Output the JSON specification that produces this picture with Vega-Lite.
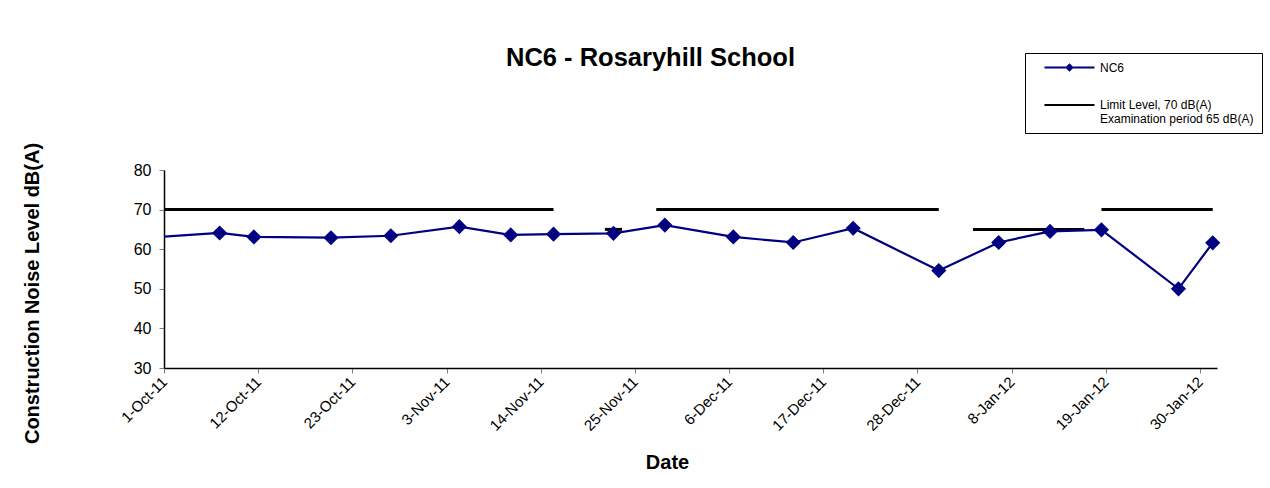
{
  "$schema": "https://vega.github.io/schema/vega-lite/v6.json",
  "width": 1053,
  "height": 198,
  "autosize": {"type": "none"},
  "padding": {"left": 164, "top": 170, "right": 53, "bottom": 120},
  "background": "white",
  "config": {
    "font": "Liberation Sans",
    "view": {"stroke": null},
    "legend": {
      "orient": "none",
      "legendX": 861,
      "legendY": -117,
      "strokeColor": "black",
      "strokeWidth": 1,
      "fillColor": "white",
      "padding": 8,
      "symbolSize": 100,
      "symbolStrokeWidth": 2.2,
      "symbolOpacity": 1,
      "labelFontSize": 12,
      "labelColor": "black",
      "labelOffset": 54,
      "labelLineHeight": 15,
      "rowPadding": 23.5
    }
  },
  "title": {
    "text": "NC6 - Rosaryhill School",
    "fontSize": 25.5,
    "fontWeight": "bold",
    "color": "black",
    "anchor": "middle",
    "frame": "group",
    "dx": -40,
    "offset": -39,
    "baseline": "alphabetic"
  },
  "datasets": {
    "nc6": [
      {"date": "2011-09-30T12:00:00", "level": 63.1, "series": "NC6"},
      {"date": "2011-10-07T12:00:00", "level": 64.1, "series": "NC6"},
      {"date": "2011-10-11T12:00:00", "level": 63.1, "series": "NC6"},
      {"date": "2011-10-20T12:00:00", "level": 62.9, "series": "NC6"},
      {"date": "2011-10-27T12:00:00", "level": 63.4, "series": "NC6"},
      {"date": "2011-11-04T12:00:00", "level": 65.7, "series": "NC6"},
      {"date": "2011-11-10T12:00:00", "level": 63.6, "series": "NC6"},
      {"date": "2011-11-15T12:00:00", "level": 63.8, "series": "NC6"},
      {"date": "2011-11-22T12:00:00", "level": 64.0, "series": "NC6"},
      {"date": "2011-11-28T12:00:00", "level": 66.1, "series": "NC6"},
      {"date": "2011-12-06T12:00:00", "level": 63.1, "series": "NC6"},
      {"date": "2011-12-13T12:00:00", "level": 61.7, "series": "NC6"},
      {"date": "2011-12-20T12:00:00", "level": 65.3, "series": "NC6"},
      {"date": "2011-12-30T12:00:00", "level": 54.6, "series": "NC6"},
      {"date": "2012-01-06T12:00:00", "level": 61.7, "series": "NC6"},
      {"date": "2012-01-12T12:00:00", "level": 64.5, "series": "NC6"},
      {"date": "2012-01-18T12:00:00", "level": 64.9, "series": "NC6"},
      {"date": "2012-01-27T12:00:00", "level": 50.0, "series": "NC6"},
      {"date": "2012-01-31T12:00:00", "level": 61.6, "series": "NC6"}
    ],
    "limit": [
      {"date": "2011-09-30T12:00:00", "end": "2011-11-15T12:00:00", "level": 70},
      {"date": "2011-11-21T12:00:00", "end": "2011-11-23T12:00:00", "level": 65},
      {"date": "2011-11-27T12:00:00", "end": "2011-12-30T12:00:00", "level": 70},
      {"date": "2012-01-03T12:00:00", "end": "2012-01-16T12:00:00", "level": 65},
      {"date": "2012-01-18T12:00:00", "end": "2012-01-31T12:00:00", "level": 70}
    ],
    "legend": [
      {"series": "NC6"},
      {"series": "Limit Level, 70 dB(A)\nExamination period 65 dB(A)"}
    ]
  },
  "encoding": {
    "x": {
      "field": "date",
      "type": "temporal",
      "scale": {
        "domain": [
          {"year": 2011, "month": 10, "date": 1},
          {"year": 2012, "month": 2, "date": 1}
        ],
        "nice": false
      },
      "axis": {
        "values": [
          {"year": 2011, "month": 10, "date": 1},
          {"year": 2011, "month": 10, "date": 12},
          {"year": 2011, "month": 10, "date": 23},
          {"year": 2011, "month": 11, "date": 3},
          {"year": 2011, "month": 11, "date": 14},
          {"year": 2011, "month": 11, "date": 25},
          {"year": 2011, "month": 12, "date": 6},
          {"year": 2011, "month": 12, "date": 17},
          {"year": 2011, "month": 12, "date": 28},
          {"year": 2012, "month": 1, "date": 8},
          {"year": 2012, "month": 1, "date": 19},
          {"year": 2012, "month": 1, "date": 30}
        ],
        "format": "%-d-%b-%y",
        "labelAngle": -45,
        "labelAlign": "right",
        "labelBaseline": "middle",
        "labelFontSize": 15,
        "labelColor": "black",
        "labelPadding": 6,
        "labelOverlap": false,
        "tickSize": 5,
        "tickColor": "#808080",
        "domainColor": "black",
        "domainWidth": 1.5,
        "grid": false,
        "title": "Date",
        "titleFontSize": 20,
        "titleFontWeight": "bold",
        "titleColor": "black",
        "titleX": 503,
        "titleY": 94,
        "titleAlign": "center",
        "titleBaseline": "middle"
      }
    },
    "y": {
      "field": "level",
      "type": "quantitative",
      "scale": {"domain": [30, 80], "nice": false, "zero": false},
      "axis": {
        "values": [30, 40, 50, 60, 70, 80],
        "grid": false,
        "labelFontSize": 16,
        "labelColor": "black",
        "labelPadding": 8,
        "tickSize": 5,
        "tickColor": "#808080",
        "domainColor": "black",
        "domainWidth": 1.5,
        "title": "Construction Noise Level  dB(A)",
        "titleFontSize": 20,
        "titleFontWeight": "bold",
        "titleColor": "black",
        "titleAngle": -90,
        "titleX": -132,
        "titleY": 123,
        "titleAlign": "center",
        "titleBaseline": "middle"
      }
    }
  },
  "layer": [
    {
      "data": {"name": "limit"},
      "mark": {"type": "rule", "color": "black", "strokeWidth": 3, "clip": true},
      "encoding": {"x2": {"field": "end"}}
    },
    {
      "data": {"name": "nc6"},
      "mark": {"type": "line", "color": "#000080", "strokeWidth": 2.2, "clip": true},
      "encoding": {}
    },
    {
      "data": {"name": "nc6"},
      "transform": [{"filter": {"field": "date", "gte": {"year": 2011, "month": 10, "date": 1}}}],
      "mark": {"type": "point", "shape": "diamond", "filled": true, "color": "#000080", "size": 230, "opacity": 1},
      "encoding": {}
    },
    {
      "data": {"name": "legend"},
      "mark": {"type": "point", "filled": true, "opacity": 0},
      "encoding": {
        "x": null,
        "y": null,
        "shape": {
          "field": "series",
          "type": "nominal",
          "scale": {
            "domain": ["NC6", "Limit Level, 70 dB(A)\nExamination period 65 dB(A)"],
            "range": ["M1,0L11,0M6,-0.56L6.56,0L6,0.56L5.44,0Z", "M1,0L11,0"]
          },
          "legend": {"title": null, "labelExpr": "split(datum.label, '\\n')"}
        },
        "fill": {
          "field": "series",
          "type": "nominal",
          "scale": {
            "domain": ["NC6", "Limit Level, 70 dB(A)\nExamination period 65 dB(A)"],
            "range": ["#000080", "black"]
          },
          "legend": {"title": null, "labelExpr": "split(datum.label, '\\n')"}
        },
        "stroke": {
          "field": "series",
          "type": "nominal",
          "scale": {
            "domain": ["NC6", "Limit Level, 70 dB(A)\nExamination period 65 dB(A)"],
            "range": ["#000080", "black"]
          },
          "legend": {"title": null, "labelExpr": "split(datum.label, '\\n')"}
        }
      }
    }
  ]
}
